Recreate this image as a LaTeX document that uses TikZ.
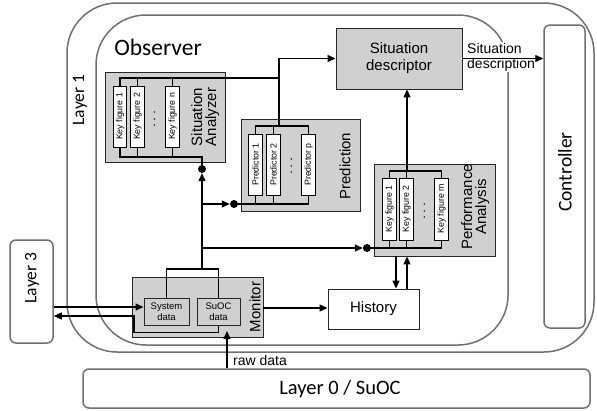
\documentclass[tikz,border=0pt]{standalone}
\usepackage{fontspec}
\setmainfont{Liberation Sans}
\newfontfamily\carlito{Carlito}
\usetikzlibrary{arrows.meta}
\definecolor{layergray}{HTML}{707070}
\definecolor{boxgray}{HTML}{D0D0D0}
\begin{document}
\begin{tikzpicture}[x=1pt,y=-1pt,
  layerbox/.style={draw=layergray, line width=1.5pt, inner sep=0pt},
  graybox/.style={draw=black!85, fill=boxgray, line width=0.9pt, inner sep=0pt},
  kfbox/.style={draw=black, fill=white, line width=0.9pt, inner sep=0pt, minimum width=13.5pt, minimum height=61pt, font=\fontsize{8.8}{9}\selectfont},
  databox/.style={draw=black!85, fill=boxgray, line width=0.9pt, inner sep=0pt, minimum height=27pt, align=center, font=\fontsize{9.5}{11}\selectfont},
  bus/.style={line width=1.3pt},
  arr/.style={line width=1.3pt, -{Triangle[length=8pt,width=7pt]}},
  dotmark/.style={circle, fill=black, inner sep=0pt, minimum size=8pt},
  lbl/.style={inner sep=0pt, align=center, font=\fontsize{15}{16}\selectfont},
  biglbl/.style={inner sep=0pt, font=\carlito\fontsize{17.5}{20}\selectfont},
  dotsstyle/.style={inner sep=0pt, font=\fontsize{14}{14}\selectfont}
]
\useasboundingbox (0,0) rectangle (597,410);
\fill[white] (0,0) rectangle (597,410);

% layers
\node[layerbox, rounded corners=50pt, minimum width=527pt, minimum height=349pt] (layer1) at (330.5,177.5) {};
\node[layerbox, rounded corners=50pt, minimum width=412pt, minimum height=330pt] (observer) at (302,180) {};
\node[layerbox, rounded corners=6pt, minimum width=507pt, minimum height=39pt] (layer0) at (336.5,388.5) {};
\node[layerbox, rounded corners=6pt, minimum width=43pt, minimum height=103pt] (layer3) at (31.5,291.5) {};
\node[layerbox, rounded corners=6pt, minimum width=41pt, minimum height=303pt] (controller) at (564.5,176.5) {};

\node[biglbl, font=\carlito\fontsize{23.5}{26}\selectfont] (obstext) at (158,47) {Observer};
\node[biglbl] (l1text) at (80,100) {\rotatebox{90}{Layer 1}};
\node[biglbl] (l3text) at (32,278) {\rotatebox{90}{Layer 3}};
\node[biglbl, font=\carlito\fontsize{19.5}{22}\selectfont] (ctext) at (565,172) {\rotatebox{90}{Controller}};
\node[biglbl, font=\carlito\fontsize{20.5}{22}\selectfont] (l0text) at (340,389) {Layer 0 / SuOC};
\node[inner sep=0pt, anchor=west, font=\fontsize{14}{16}\selectfont] (rawtext) at (233,360) {raw data};

% gray boxes
\node[graybox, minimum width=126pt, minimum height=61pt, align=center, font=\fontsize{15}{17}\selectfont] (sd) at (399,58.5) {Situation\\descriptor};
\node[graybox, minimum width=120pt, minimum height=90pt] (sa) at (165,117) {};
\node[graybox, minimum width=119pt, minimum height=92pt] (pred) at (300.5,165) {};
\node[graybox, minimum width=121pt, minimum height=92pt] (pa) at (434.5,210) {};
\node[graybox, minimum width=131pt, minimum height=60pt] (monitor) at (197.5,307) {};
\node[draw=black!85, fill=white, line width=0.9pt, inner sep=0pt, minimum width=91pt, minimum height=40pt, font=\fontsize{15}{17}\selectfont] (history) at (373.5,309) {History};

\node[lbl] (satext) at (206,117) {\rotatebox{90}{\begin{tabular}{@{}c@{}}Situation\\[-2pt]Analyzer\end{tabular}}};
\node[lbl] (predtext) at (345,166) {\rotatebox{90}{Prediction}};
\node[lbl] (patext) at (476,207) {\rotatebox{90}{\begin{tabular}{@{}c@{}}Performance\\[-2pt]Analysis\end{tabular}}};
\node[lbl] (montext) at (255,307) {\rotatebox{90}{Monitor}};

% key figure boxes
\node[kfbox] (sakf1) at (120,116.5) {\rotatebox{90}{Key figure 1}};
\node[kfbox] (sakf2) at (137.5,116.5) {\rotatebox{90}{Key figure 2}};
\node[kfbox] (sakfn) at (172.5,116.5) {\rotatebox{90}{Key figure n}};
\node[dotsstyle] (sadots) at (155,119) {\rotatebox{90}{$\cdots$}};

\node[kfbox] (pk1) at (255.5,164.5) {\rotatebox{90}{Predictor 1}};
\node[kfbox] (pk2) at (273.5,164.5) {\rotatebox{90}{Predictor 2}};
\node[kfbox] (pkp) at (308.5,164.5) {\rotatebox{90}{Predictor p}};
\node[dotsstyle] (pdots) at (292,166) {\rotatebox{90}{$\cdots$}};

\node[kfbox, minimum height=62pt] (pakf1) at (389.5,209) {\rotatebox{90}{Key figure 1}};
\node[kfbox, minimum height=62pt] (pakf2) at (406.5,209) {\rotatebox{90}{Key figure 2}};
\node[kfbox, minimum height=62pt] (pakfm) at (441.5,209) {\rotatebox{90}{Key figure m}};
\node[dotsstyle] (padots) at (425,211) {\rotatebox{90}{$\cdots$}};

\node[databox, minimum width=45pt] (sysd) at (166.5,311.5) {System\\data};
\node[databox, minimum width=43pt] (suocd) at (218.5,311.5) {SuOC\\data};

% dots
\node[dotmark] (sadot) at (202,169) {};
\node[dotmark] (preddot) at (234,204) {};
\node[dotmark] (padot) at (367,248) {};

% label for situation description
\node[fill=white, inner sep=1pt, align=left, anchor=north west, font=\fontsize{14}{15}\selectfont] (sdlabel) at (466,42) {Situation\\description};

% Situation Analyzer buses
\coordinate (satop) at (279,78);
\coordinate (sabot) at (202,157);
\draw[bus] (sakf1.north) |- (satop);
\draw[bus] (sakf2.north) -- (sakf2.north |- satop);
\draw[bus] (sakfn.north) -- (sakfn.north |- satop);
\draw[bus] (sakf1.south) |- (sabot) -- (sadot.center);
\draw[bus] (sakf2.south) -- (sakf2.south |- sabot);
\draw[bus] (sakfn.south) -- (sakfn.south |- sabot);
\draw[bus] (satop) -- (pred.north -| satop);
\draw[arr] (satop) |- (sd.west);

% Prediction buses
\coordinate (ptop) at (279,126);
\draw[bus] (pk1.north) |- (ptop) -| (pkp.north);
\draw[bus] (pk2.north) -- (pk2.north |- ptop);
\draw[bus] (pred.north -| ptop) -- (ptop);
\draw[bus] (preddot.center) -| (pkp.south);
\draw[bus] (pk1.south) -- (pk1.south |- preddot);
\draw[bus] (pk2.south) -- (pk2.south |- preddot);

% Performance Analysis buses
\coordinate (patop) at (407,171);
\draw[bus] (pakf1.north) |- (patop) -| (pakfm.north);
\draw[bus] (pakf2.north) -- (pakf2.north |- patop);
\draw[bus] (padot.center) -| (pakfm.south);
\draw[bus] (pakf1.south) -- (pakf1.south |- padot);
\draw[bus] (pakf2.south) -- (pakf2.south |- padot);
\draw[arr] (patop) -- (sd.south -| patop);

% Monitor buses and branches
\coordinate (montop) at (202,269);
\coordinate (br1) at (202,204);
\coordinate (br2) at (202,248);
\draw[bus] (sysd.north) |- (montop) -| (suocd.north);
\draw[arr] (montop) -- (sadot.south);
\draw[arr] (br1) -- (preddot.west);
\draw[arr] (br2) -- (padot.west);

% Monitor <-> Layer 3
\draw[arr] (layer3.east |- 0,307) -- (sysd.west |- 0,307);
\coordinate (lowcorner) at (134,316);
\draw[arr] (suocd.south) -- ++(0,7) -| (lowcorner) -- (layer3.east |- lowcorner);

% raw data
\coordinate (rawend) at (227,331);
\draw[arr] (layer0.north -| rawend) -- (rawend);

% Monitor -> History
\draw[arr] (monitor.east |- 0,308) -- (history.west |- 0,308);

% PA <-> History
\draw[arr] (pa.south -| 396,0) -- (history.north -| 396,0);
\draw[arr] (history.north -| 407,0) -- (pa.south -| 407,0);

% SD -> Controller
\draw[arr] (sd.east) -- (controller.west |- sd.east);
\end{tikzpicture}
\end{document}
